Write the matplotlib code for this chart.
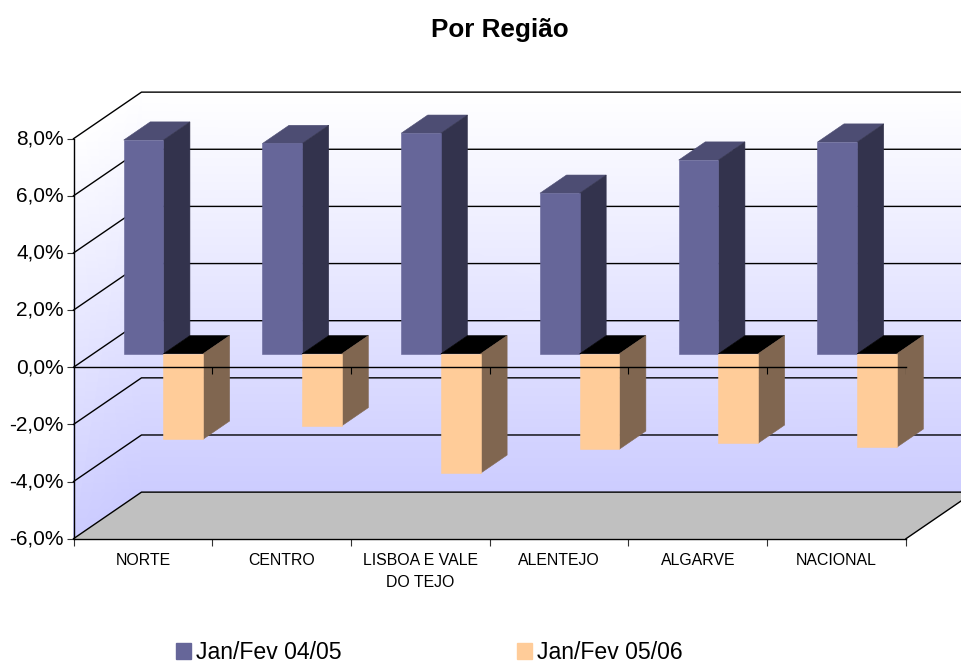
import numpy as np
import matplotlib
matplotlib.use('Agg')
import matplotlib.pyplot as plt
from matplotlib.colors import LinearSegmentedColormap
from matplotlib.patches import Patch
from matplotlib.transforms import ScaledTranslation

plt.rcParams['font.family'] = ['Liberation Sans', 'DejaVu Sans']

categories = ['NORTE', 'CENTRO', 'LISBOA E VALE\nDO TEJO', 'ALENTEJO', 'ALGARVE', 'NACIONAL']
series_names = ['Jan/Fev 04/05', 'Jan/Fev 05/06']
values_0405 = [7.48, 7.36, 7.72, 5.62, 6.78, 7.41]
values_0506 = [-2.99, -2.52, -4.18, -3.34, -3.13, -3.27]
y_ticks = [-6, -4, -2, 0, 2, 4, 6, 8]

# depth of the 3d box, in data units
DEPTH_X = 0.49
DEPTH_Y = 1.63
BAR_D0 = 0.29
BAR_D1 = 0.68
BAR_W = 0.286
BAR_GAP = 0.22

Y_MIN, Y_MAX = -6, 8
N = len(categories)


def proj(_x, _y, _d):
    return _x + _d * DEPTH_X, _y + _d * DEPTH_Y


def face(_ax, _pts, _color, _z):
    _xy = [proj(*p) for p in _pts]
    _ax.fill([p[0] for p in _xy], [p[1] for p in _xy], color=_color, lw=0.4, zorder=_z, clip_on=False)


def bar3d(_ax, _x, _v, _front, _top, _side, _z):
    _x1 = _x + BAR_W
    _high = max(_v, 0)
    _low = min(_v, 0)
    face(_ax, [(_x, _high, BAR_D0), (_x1, _high, BAR_D0), (_x1, _high, BAR_D1), (_x, _high, BAR_D1)], _top, _z)
    face(_ax, [(_x1, _low, BAR_D0), (_x1, _high, BAR_D0), (_x1, _high, BAR_D1), (_x1, _low, BAR_D1)], _side, _z)
    face(_ax, [(_x, _low, BAR_D0), (_x1, _low, BAR_D0), (_x1, _high, BAR_D0), (_x, _high, BAR_D0)], _front, _z)


def wall(_ax, _x0, _x1, _d0, _d1, _cmap):
    # gradient runs from the floor up to the top of the box
    _v = np.array([Y_MIN, Y_MAX], dtype=float)
    _X = np.array([[proj(_x0, v, _d0)[0], proj(_x1, v, _d1)[0]] for v in _v])
    _Y = np.array([[proj(_x0, v, _d0)[1], proj(_x1, v, _d1)[1]] for v in _v])
    _C = np.array([[v, v] for v in _v])
    _m = _ax.pcolormesh(_X, _Y, _C, cmap=_cmap, shading='gouraud', vmin=Y_MIN, vmax=Y_MAX, zorder=1)
    _m.set_clip_on(False)


fig = plt.figure(figsize=(9.62, 6.64), dpi=100)
ax = fig.add_axes([73.5 / 962, 1 - 538.7 / 664, (906 - 73.5) / 962, 400 / 664])
ax.set_xlim(0, N)
ax.set_ylim(Y_MIN, Y_MAX)
ax.patch.set_visible(False)

wall_cmap = LinearSegmentedColormap.from_list('wall', ['#CCCCFF', '#FFFFFF'])
wall(ax, 0, N, 1, 1, wall_cmap)
wall(ax, 0, 0, 0, 1, wall_cmap)

# floor
face(ax, [(0, Y_MIN, 0), (N, Y_MIN, 0), (N, Y_MIN, 1), (0, Y_MIN, 1)], '#C0C0C0', 2)

# gridlines on back and left wall
for t in y_ticks:
    x0, y0 = proj(0, t, 0)
    x1, y1 = proj(0, t, 1)
    x2, y2 = proj(N, t, 1)
    ax.plot([x0, x1, x2], [y0, y1, y2], color='black', lw=1.0, zorder=3, clip_on=False)
x0, y0 = proj(N, Y_MIN, 0)
x1, y1 = proj(N, Y_MIN, 1)
ax.plot([x0, x1], [y0, y1], color='black', lw=1.0, zorder=3, clip_on=False)

# bars, blue then orange for each region
for i in range(N):
    bx = i + BAR_GAP
    bar3d(ax, bx, values_0405[i], '#666699', '#4D4D73', '#33334D', 4 + i)
    bar3d(ax, bx + BAR_W, values_0506[i], '#FFCC99', '#000000', '#806650', 4 + i)

# zero axis in front of the bars
ax.plot([0, N], [0, 0], color='black', lw=1.0, zorder=20, clip_on=False)
ax.vlines(np.arange(1, N + 1), -0.25, 0, color='black', lw=0.8, zorder=20)

for s in ['top', 'right']:
    ax.spines[s].set_visible(False)
for s in ['left', 'bottom']:
    ax.spines[s].set_linewidth(1.0)
    ax.spines[s].set_zorder(21)

ax.set_yticks(y_ticks)
ax.set_yticklabels([('%.1f' % t).replace('.', ',') + '%' for t in y_ticks], fontsize=15)
ax.set_xticks(np.arange(N + 1))
ax.set_xticklabels([])
ax.set_xticks(np.arange(N) + 0.5, minor=True)
ax.set_xticklabels(categories, minor=True, fontsize=11.4, linespacing=1.6)
ax.tick_params(axis='both', which='major', length=5, width=0.8, color='#333333')
ax.tick_params(axis='y', pad=2)
ax.tick_params(axis='x', which='minor', length=0, pad=10.5)

# y labels sit a pixel above their ticks
for lab in ax.get_yticklabels():
    lab.set_transform(lab.get_transform() + ScaledTranslation(0, 1.2 / 72, fig.dpi_scale_trans))

fig.text(500 / 962, 1 - 30 / 664, 'Por Região', fontsize=18.8, fontweight='bold', ha='center', va='center')

handles = [Patch(color='#666699', label=series_names[0]), Patch(color='#FFCC99', label=series_names[1])]
fig.legend(handles=handles, loc='center', bbox_to_anchor=(429.5 / 962, 1 - 652.5 / 664), ncol=2, frameon=False,
           fontsize=16.6, handlelength=0.65, handleheight=0.65, handletextpad=0.22, columnspacing=7.6, borderpad=0)

fig.savefig('out.png', dpi=100)
